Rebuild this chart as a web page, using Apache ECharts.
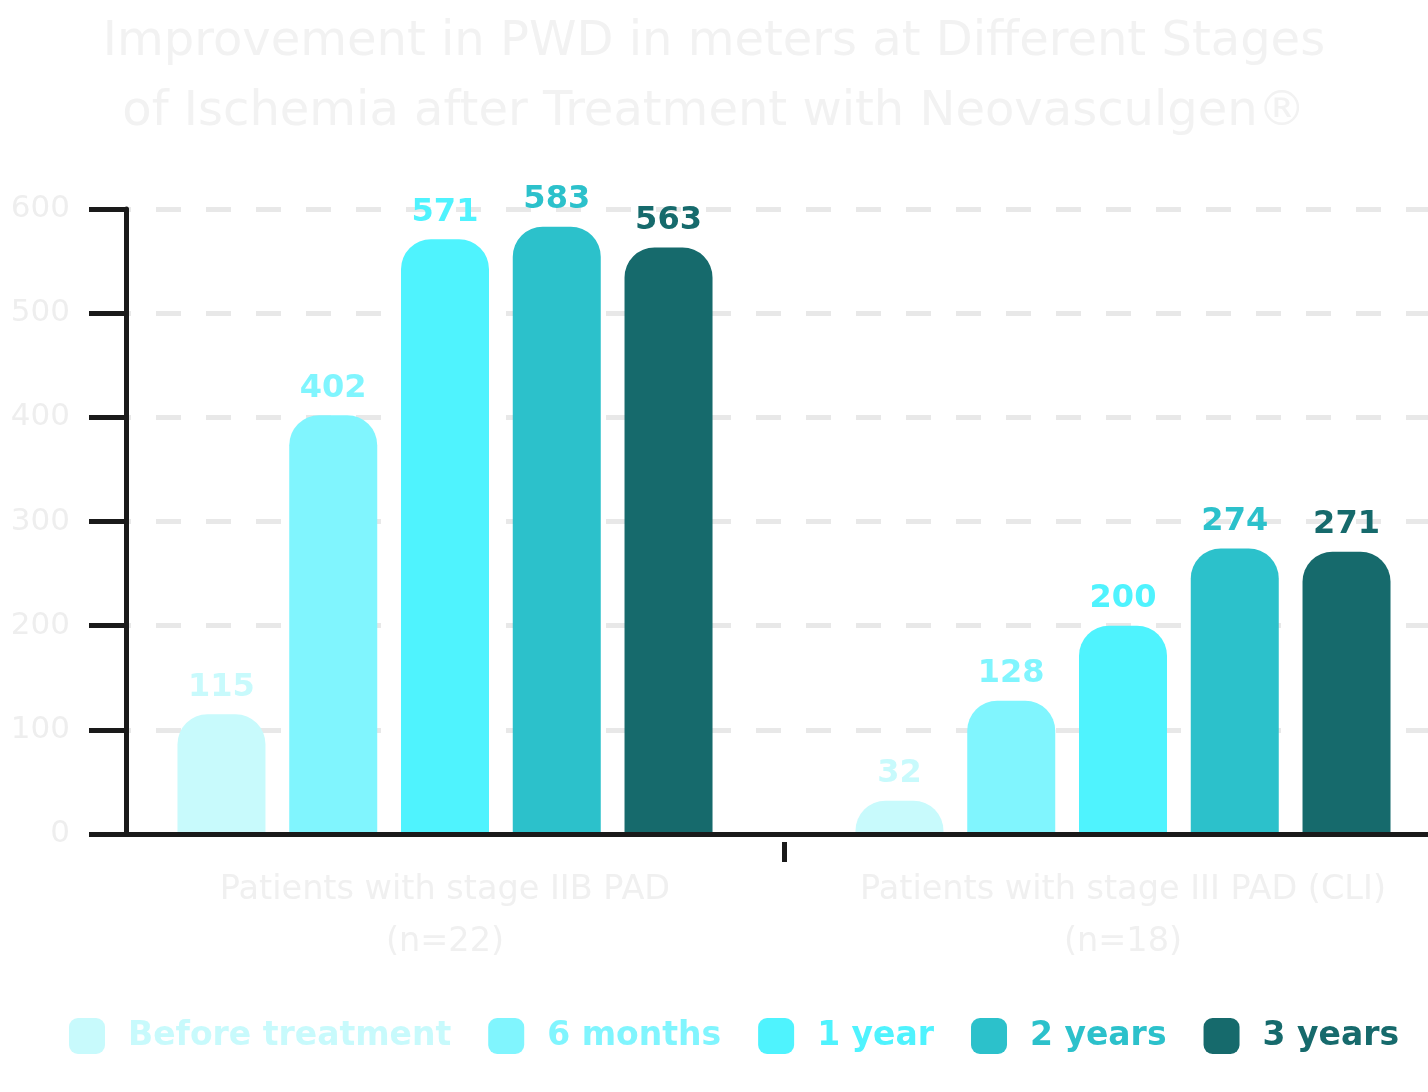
<!DOCTYPE html>
<html>
<head>
<meta charset="utf-8">
<script src="https://cdn.jsdelivr.net/npm/echarts@6/dist/echarts.min.js"></script>
<style>
  html, body { margin: 0; padding: 0; background: #fff; }
  #chart { width: 1428px; height: 1092px; }
</style>
</head>
<body>
<div id="chart"></div>
<script>
var categories = ['Patients with stage IIB PAD\n(n=22)', 'Patients with stage III PAD (CLI)\n(n=18)'];
var seriesNames = ['Before treatment', '6 months', '1 year', '2 years', '3 years'];
var beforeTreatment = [115, 32];
var sixMonths = [402, 128];
var oneYear = [571, 200];
var twoYears = [583, 274];
var threeYears = [563, 271];
var yTicks = [0, 100, 200, 300, 400, 500, 600];

var colors = ['#c8fafc', '#80f5fe', '#4ff3fe', '#2cc1cb', '#166a6c'];
var allValues = [beforeTreatment, sixMonths, oneYear, twoYears, threeYears];
var fontFamily = '"DejaVu Sans", sans-serif';

var myChart = echarts.init(document.getElementById('chart'), null, { renderer: 'canvas' });

var series = seriesNames.map(function (name, i) {
  return {
    name: name,
    type: 'bar',
    data: allValues[i],
    barWidth: 88,
    barGap: '27%',
    itemStyle: { color: colors[i], borderRadius: [30, 30, 0, 0] },
    label: {
      show: true,
      position: 'top',
      distance: 11,
      color: colors[i],
      fontSize: 32,
      fontWeight: 'bold',
      fontFamily: fontFamily
    }
  };
});

var option = {
  backgroundColor: '#ffffff',
  color: colors,
  title: {
    text: 'Improvement in PWD in meters at Different Stages\nof Ischemia after Treatment with Neovasculgen®',
    left: 'center',
    top: 3,
    textStyle: {
      color: '#f2f2f2',
      fontSize: 48,
      fontWeight: 'normal',
      lineHeight: 70,
      fontFamily: fontFamily
    }
  },
  legend: {
    left: 64,
    bottom: 33,
    icon: 'roundRect',
    itemWidth: 36,
    itemHeight: 36,
    itemGap: 37,
    textStyle: {
      fontSize: 33,
      fontWeight: 'bold',
      fontFamily: fontFamily,
      padding: [0, 0, 0, 18]
    },
    data: seriesNames.map(function (n, i) {
      return { name: n, textStyle: { color: colors[i] } };
    })
  },
  grid: {
    left: 106,
    width: 1356,
    top: 209,
    bottom: 258,
    containLabel: false,
    outerBoundsMode: 'none'
  },
  xAxis: [
    {
      type: 'category',
      data: categories,
      z: 10,
      axisLine: { lineStyle: { color: '#1a1a1a', width: 5 } },
      axisTick: { show: false },
      axisLabel: {
        interval: 0,
        showMinLabel: true,
        showMaxLabel: true,
        hideOverlap: false,
        margin: 30,
        color: '#f0f0f0',
        fontSize: 33.5,
        lineHeight: 52,
        fontFamily: fontFamily
      }
    },
    {
      // only carries the divider tick between the two groups
      type: 'value',
      position: 'bottom',
      min: 0,
      max: 2,
      offset: 8,
      axisLine: { show: false },
      axisLabel: { show: false },
      splitLine: { show: false },
      axisTick: {
        show: true,
        length: 20,
        customValues: [1],
        lineStyle: { color: '#1a1a1a', width: 5 }
      }
    }
  ],
  yAxis: {
    type: 'value',
    min: yTicks[0],
    max: yTicks[yTicks.length - 1],
    interval: 100,
    offset: -20,
    axisLine: { show: true, lineStyle: { color: '#1a1a1a', width: 5 } },
    axisTick: { show: true, length: 37, lineStyle: { color: '#1a1a1a', width: 5 } },
    axisLabel: {
      margin: 56,
      color: '#eeeeee',
      fontSize: 31,
      fontFamily: fontFamily
    },
    splitLine: {
      show: true,
      lineStyle: { color: '#e8e8e8', width: 5, type: [25, 25] }
    }
  },
  series: series
};

if (option && typeof option === 'object') {
  myChart.setOption(option);
}

window.addEventListener('resize', myChart.resize);
</script>
</body>
</html>
